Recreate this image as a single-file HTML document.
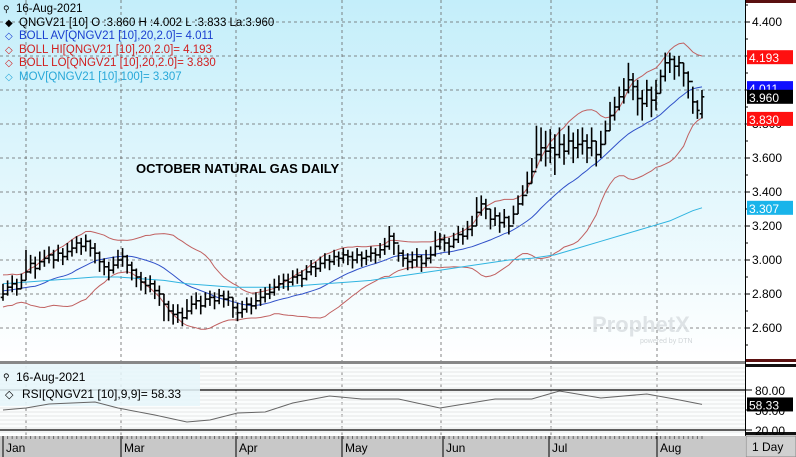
<!DOCTYPE html>
<html><head><meta charset="utf-8">
<style>
body{margin:0;padding:0;background:#fff;}
#wrap{position:relative;width:796px;height:457px;overflow:hidden;font-family:"Liberation Sans",sans-serif;}
svg text{font-family:"Liberation Sans",sans-serif;}
</style></head>
<body>
<div id="wrap">
<svg id="chart" width="796" height="457" viewBox="0 0 796 457" xmlns="http://www.w3.org/2000/svg">
<defs>
<linearGradient id="bg" x1="0" y1="0" x2="0" y2="1">
<stop offset="0" stop-color="#c4eefa"/><stop offset="1" stop-color="#ffffff"/>
</linearGradient>
</defs>
<rect x="0" y="0" width="745" height="361" fill="url(#bg)"/>
<rect x="0" y="363" width="745" height="72" fill="#fbfdfd"/>
<rect x="745" y="0" width="51" height="457" fill="#fff"/>
<rect x="0" y="436" width="745" height="21" fill="#c8c8c8"/>
<g id="grid"></g>
<rect x="0" y="364" width="200" height="42" fill="#e6f6fa" opacity="0.85"/>
<g id="series"></g>
<g id="axis"></g>
<text x="136" y="173" font-size="13" font-weight="bold" fill="#000">OCTOBER NATURAL GAS DAILY</text>
<text x="592" y="332" font-size="22" font-weight="bold" fill="#d8dde0" opacity="0.8">ProphetX</text>
<text x="640" y="343" font-size="7" fill="#d0d5d8">powered by DTN</text>
<g id="legend" font-size="11.5">
<text x="16" y="12" fill="#000">16-Aug-2021</text>
<text x="3" y="12" font-size="9" fill="#000">⚲</text>
<text x="5" y="26" font-size="10" fill="#000">◆</text>
<text x="19" y="26" fill="#000">QNGV21 [10] O :3.860 H :4.002 L :3.833 La:3.960</text>
<text x="5" y="39" font-size="10" fill="#1a3fcf">◇</text>
<text x="19" y="39" fill="#1a3fcf">BOLL AV[QNGV21 [10],20,2.0]= 4.011</text>
<text x="5" y="53" font-size="10" fill="#d02020">◇</text>
<text x="19" y="53" fill="#d02020">BOLL HI[QNGV21 [10],20,2.0]= 4.193</text>
<text x="5" y="66" font-size="10" fill="#d02020">◇</text>
<text x="19" y="66" fill="#d02020">BOLL LO[QNGV21 [10],20,2.0]= 3.830</text>
<text x="5" y="80" font-size="10" fill="#28a8d8">◇</text>
<text x="19" y="80" fill="#28a8d8">MOV[QNGV21 [10],100]= 3.307</text>
</g>
<text x="3" y="380" font-size="9">⚲</text>
<text x="16" y="381" font-size="12" fill="#000">16-Aug-2021</text>
<text x="5" y="398" font-size="11" fill="#000">◇</text>
<text x="22" y="398" font-size="12" fill="#000">RSI[QNGV21 [10],9,9]= 58.33</text>
<rect x="746" y="436" width="50" height="21" fill="#d0d0d0" stroke="#888"/>
<text x="752" y="451" font-family="Liberation Mono" font-size="12" fill="#000">1 Day</text>
</svg>
</div>
<script>
// ---- data ----
const priorCloses=[2.76,2.80,2.74,2.78,2.85,2.90,2.88,2.82,2.79,2.75,2.80,2.86,2.91,2.87,2.83,2.78,2.81,2.84,2.79];
const closes=[2.80,2.84,2.86,2.83,2.88, 2.93,2.98,2.95,2.99,3.01, 3.03,3.00,3.04,3.02,3.05, 3.07,3.10,3.08,3.11,3.07,
3.04,2.99,2.96,2.94,2.97, 3.00,3.02,2.97,2.94,2.90, 2.87,2.85,2.86,2.82,2.80, 2.74,2.70,2.68,2.69,2.66,
2.70,2.74,2.76,2.73,2.77, 2.78,2.76,2.79,2.77,2.78, 2.72,2.69,2.71,2.74,2.73, 2.76,2.78,2.80,2.81,2.84,
2.86,2.88,2.87,2.90,2.91, 2.89,2.93,2.96,2.95,2.98, 3.00,2.99,3.02,3.01,3.03, 3.02,3.00,3.03,3.01,3.02,
3.04,3.03,3.06,3.08,3.14, 3.10,3.04,3.01,2.99,3.00, 3.02,2.98,3.01,3.03,3.08, 3.12,3.10,3.08,3.12,3.15,
3.14,3.18,3.20,3.28,3.33, 3.30,3.24,3.26,3.22,3.25, 3.20,3.27,3.33,3.38,3.45, 3.52,3.62,3.66,3.64,3.66,
3.62,3.68,3.64,3.70,3.66, 3.68,3.70,3.66,3.70,3.62, 3.68,3.76,3.85,3.90,3.96, 4.00,4.06,4.02,3.95,3.92,
4.00,3.94,3.98,4.08,4.16, 4.18,4.14,4.16,4.10,4.05, 3.93,3.88,3.96];
const highs=[2.86,2.88,2.91,2.89,2.92, 3.06,3.03,3.02,3.05,3.06, 3.08,3.06,3.09,3.07,3.10, 3.12,3.14,3.13,3.15,3.12,
3.10,3.05,3.01,2.99,3.02, 3.06,3.07,3.03,2.99,2.95, 2.93,2.90,2.91,2.88,2.85, 2.80,2.76,2.74,2.74,2.72,
2.77,2.79,2.81,2.79,2.81, 2.82,2.81,2.83,2.82,2.82, 2.78,2.75,2.76,2.78,2.78, 2.81,2.83,2.84,2.86,2.89,
2.91,2.92,2.92,2.94,2.95, 2.94,2.97,3.00,2.99,3.02, 3.04,3.03,3.06,3.05,3.07, 3.06,3.05,3.07,3.05,3.06,
3.08,3.07,3.10,3.13,3.20, 3.16,3.09,3.06,3.04,3.05, 3.07,3.03,3.06,3.08,3.17, 3.16,3.15,3.13,3.16,3.20,
3.19,3.23,3.26,3.37,3.38, 3.36,3.30,3.31,3.28,3.30, 3.26,3.32,3.38,3.44,3.52, 3.60,3.79,3.78,3.76,3.77,
3.74,3.78,3.74,3.79,3.75, 3.77,3.78,3.74,3.78,3.70, 3.76,3.82,3.93,3.96,4.02, 4.07,4.16,4.10,4.06,4.00,
4.06,4.02,4.06,4.12,4.22, 4.22,4.20,4.20,4.16,4.11, 4.02,3.94,4.00];
const lows=[2.76,2.79,2.81,2.79,2.83, 2.88,2.92,2.89,2.94,2.96, 2.98,2.95,2.99,2.97,3.00, 3.02,3.04,3.03,3.05,3.02,
2.98,2.93,2.91,2.88,2.92, 2.95,2.96,2.92,2.88,2.84, 2.82,2.80,2.81,2.77,2.73, 2.64,2.64,2.62,2.63,2.61,
2.65,2.68,2.71,2.68,2.72, 2.73,2.71,2.74,2.72,2.73, 2.66,2.64,2.66,2.69,2.68, 2.71,2.73,2.75,2.77,2.79,
2.82,2.83,2.82,2.85,2.86, 2.84,2.88,2.91,2.90,2.93, 2.95,2.94,2.97,2.96,2.98, 2.97,2.95,2.98,2.96,2.97,
2.99,2.98,3.01,3.03,3.06, 3.03,2.99,2.96,2.94,2.95, 2.96,2.93,2.96,2.98,3.02, 3.06,3.05,3.03,3.07,3.10,
3.09,3.12,3.14,3.20,3.26, 3.24,3.18,3.20,3.16,3.19, 3.15,3.21,3.27,3.32,3.39, 3.45,3.54,3.58,3.55,3.57,
3.50,3.60,3.56,3.62,3.57, 3.60,3.62,3.57,3.61,3.55, 3.60,3.68,3.76,3.82,3.88, 3.92,3.98,3.94,3.85,3.82,
3.90,3.84,3.88,3.98,4.05, 4.10,4.06,4.08,4.02,3.95, 3.86,3.83,3.833];
const movIdx=[0,5,10,15,20,25,30,35,40,45,50,55,60,65,70,75,80,85,90,95,100,105,110,115,120,125,130,135,140,145,150,152];
const movVals=[2.86,2.87,2.88,2.89,2.90,2.90,2.89,2.88,2.86,2.85,2.84,2.84,2.84,2.85,2.86,2.87,2.88,2.90,2.92,2.94,2.96,2.98,3.00,3.01,3.03,3.07,3.11,3.15,3.19,3.23,3.29,3.307];
const rsiIdx=[0,5,10,20,25,33,40,45,51,57,63,71,78,86,95,107,115,121,130,140,146,152];
const rsiVals=[50,53,59,62,53,42.5,32,35,45.5,47,60.5,71,66.5,66.5,53,66.5,66.5,78.5,68,74,66.5,58.33];
const priceTicks=[4.4,4.2,4.0,3.8,3.6,3.4,3.2,3.0,2.8,2.6];
const rsiTicks=[80,50,20];
const monthLabels=["Jan","Mar","Apr","May","Jun","Jul","Aug"];
const markers=[{v:4.193,c:"#ff1010",t:"4.193"},{v:4.011,c:"#1010ff",t:"4.011"},{v:3.960,c:"#000",t:"3.960"},{v:3.830,c:"#ff1010",t:"3.830"},{v:3.307,c:"#19b4ea",t:"3.307"}];

// ---- scales ----
const N=closes.length;
const xS=i=>3+i*(699/(N-1));
const yP=p=>56+(4.2-p)*170;
const yR=v=>390+(80-v)*(40/60);
const NS="http://www.w3.org/2000/svg";
function mk(tag,attrs,parent){const e=document.createElementNS(NS,tag);for(const k in attrs)e.setAttribute(k,attrs[k]);parent.appendChild(e);return e;}
const grid=document.getElementById('grid'),ser=document.getElementById('series'),ax=document.getElementById('axis');

priceTicks.forEach(p=>{const l=mk('line',{x1:0,x2:745,y1:yP(p),y2:yP(p),stroke:'#666','stroke-dasharray':'3,3','stroke-width':0.8},grid);

});
const vgridX=[26,121,236,342,441,551,657];
vgridX.forEach(x=>{const l=mk('line',{x1:x,x2:x,y1:0,y2:436,stroke:'#666','stroke-dasharray':'3,3','stroke-width':0.8},grid);

});
for(let y=368;y<434;y+=4){const l=mk('line',{x1:0,x2:745,y1:y,y2:y,stroke:'#e6e6e6','stroke-width':1},grid);

}
[80,20].forEach(v=>{const l=mk('line',{x1:0,x2:745,y1:yR(v),y2:yR(v),stroke:'#000','stroke-width':1.2},grid);

});
const sep1=mk('rect',{x:0,y:361,width:745,height:3,fill:'#888'},grid);



// bollinger
const all=priorCloses.concat(closes);const P=priorCloses.length;
const mid=[],up=[],lo=[];
for(let i=0;i<N;i++){const s=all.slice(P+i-19,P+i+1);const m=s.reduce((a,b)=>a+b,0)/s.length;
const sd=Math.sqrt(s.reduce((a,b)=>a+(b-m)*(b-m),0)/s.length);mid.push(m);up.push(m+2*sd);lo.push(m-2*sd);}
function poly(vals,col,name,w){const pts=vals.map((v,i)=>xS(i).toFixed(1)+','+yP(v).toFixed(1)).join(' ');
const e=mk('polyline',{points:pts,fill:'none',stroke:col,'stroke-width':w||1},ser);

}
poly(up,'#c06060','boll-hi-line');poly(lo,'#c06060','boll-lo-line');poly(mid,'#3050c8','boll-av-line');
const mp=movIdx.map((k,j)=>xS(k).toFixed(1)+','+yP(movVals[j]).toFixed(1)).join(' ');
const mv=mk('polyline',{points:mp,fill:'none',stroke:'#30b4e0','stroke-width':1},ser);



// bars
for(let i=0;i<N;i++){const x=xS(i);const o=i===0?closes[0]-0.02:(i===N-1?3.860:closes[i-1]);
const g=mk('g',{stroke:'#000','stroke-width':1.6},ser);


mk('line',{x1:x,x2:x,y1:yP(highs[i]),y2:yP(lows[i])},g);
mk('line',{x1:x-2.3,x2:x,y1:yP(o),y2:yP(o)},g);
mk('line',{x1:x,x2:x+2.3,y1:yP(closes[i]),y2:yP(closes[i])},g);}

// RSI
const rp=rsiIdx.map((k,j)=>xS(k).toFixed(1)+','+yR(rsiVals[j]).toFixed(1)).join(' ');
const rl=mk('polyline',{points:rp,fill:'none',stroke:'#666','stroke-width':1},ser);



// right axis
const axl=mk('line',{x1:745.5,x2:745.5,y1:0,y2:436,stroke:'#000'},ax);


[[0,3],[359,3]].forEach(r=>{const e=mk('rect',{x:746,y:r[0],width:50,height:r[1],fill:'#5a1010'},ax);

});
[[364,3],[432,3]].forEach(r=>{const e=mk('rect',{x:746,y:r[0],width:50,height:r[1],fill:'#111'},ax);

});
priceTicks.forEach(p=>{const y=yP(p);const t=mk('line',{x1:745,x2:750,y1:y,y2:y,stroke:'#000'},ax);


const tx=mk('text',{x:752,y:y+4,'font-size':12,fill:'#000'},ax);tx.textContent=p.toFixed(3);

});
for(let p=4.5;p>2.45;p-=0.1){const y=yP(p);if(y<3||y>358)continue;const t=mk('line',{x1:745,x2:748,y1:y,y2:y,stroke:'#000'},ax);

}
markers.forEach(m=>{const y=yP(m.v);const r=mk('rect',{x:747,y:y-7,width:46,height:14,fill:m.c},ax);


const t=mk('text',{x:749,y:y+5,'font-size':12,fill:'#fff'},ax);t.textContent=m.t;

});
rsiTicks.forEach(v=>{const y=yR(v);const t=mk('line',{x1:745,x2:752,y1:y,y2:y,stroke:'#000'},ax);


const tx=mk('text',{x:755,y:y+5,'font-size':12,fill:'#000'},ax);tx.textContent=v.toFixed(2);

});
const rb=mk('rect',{x:747,y:yR(58.33)-7,width:46,height:14,fill:'#000'},ax);


const rt=mk('text',{x:749,y:yR(58.33)+5,'font-size':12,fill:'#fff'},ax);rt.textContent='58.33';



// date axis
const sepX=[3,121,236,342,443,549,657];
for(let i=0;i<N;i++){const x=xS(i);const t=mk('line',{x1:x,x2:x,y1:436,y2:439,stroke:'#666'},ax);

}
monthLabels.forEach((m,j)=>{const x=sepX[j];const l=mk('line',{x1:x,x2:x,y1:436,y2:457,stroke:'#000'},ax);


const t=mk('text',{x:x+3,y:452,'font-size':12,fill:'#000'},ax);t.textContent=m;

});
</script>
</body></html>
